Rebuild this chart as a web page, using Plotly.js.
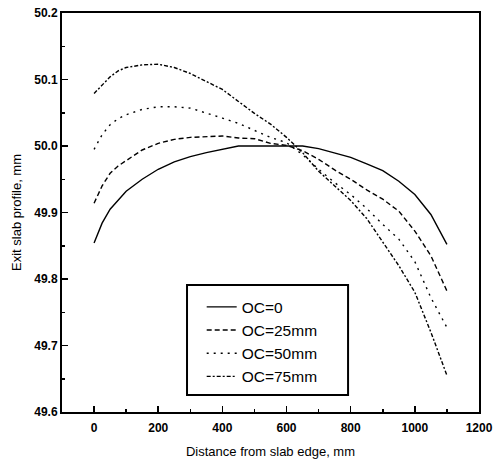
<!DOCTYPE html>
<html>
<head>
<meta charset="utf-8">
<script src="https://cdn.plot.ly/plotly-3.0.1.min.js"></script>
<style>html,body{margin:0;padding:0;background:#fff}#chart{width:496px;height:462px}</style>
</head>
<body>
<div id="chart"></div>
<script>
const distance = [0,25,50,75,100,150,200,250,300,350,400,450,500,550,600,650,700,750,800,850,900,950,1000,1050,1100];
const oc0  = [49.854,49.884,49.905,49.919,49.932,49.950,49.965,49.976,49.984,49.990,49.995,50.000,50.000,50.000,50.000,50.000,49.996,49.990,49.983,49.973,49.963,49.947,49.927,49.897,49.852];
const oc25 = [49.914,49.940,49.959,49.970,49.978,49.994,50.004,50.010,50.013,50.014,50.015,50.012,50.011,50.004,50.001,49.993,49.980,49.964,49.950,49.934,49.920,49.902,49.872,49.835,49.782];
const oc50 = [49.995,50.017,50.032,50.041,50.047,50.055,50.059,50.059,50.057,50.050,50.042,50.034,50.024,50.013,50.005,49.987,49.965,49.945,49.927,49.906,49.882,49.860,49.826,49.772,49.727];
const oc75 = [50.079,50.092,50.104,50.113,50.118,50.122,50.123,50.118,50.109,50.097,50.085,50.067,50.049,50.033,50.013,49.990,49.962,49.940,49.918,49.891,49.855,49.820,49.780,49.720,49.655];
const seriesNames = ["OC=0","OC=25mm","OC=50mm","OC=75mm"];
const xTicks = [0,200,400,600,800,1000,1200];
const yTicks = [49.6,49.7,49.8,49.9,50.0,50.1,50.2];

const dashes = ["solid","5px,3px","2px,5px","4px,2px,2px,2px"];
const series = [oc0, oc25, oc50, oc75];
const traces = series.map((ys,i)=>({
  x: distance, y: ys, type:"scatter", mode:"lines", name: seriesNames[i],
  line:{color:"#000", width:1.4, dash:dashes[i]}
}));

const font = "Liberation Sans, Arial, sans-serif";
const layout = {
  width:496, height:462,
  margin:{l:62, r:17, t:13, b:50},
  paper_bgcolor:"#fff", plot_bgcolor:"#fff",
  font:{family:font, color:"#000"},
  showlegend:true,
  legend:{x:0.335, xanchor:"left", y:0.305, yanchor:"top", bgcolor:"rgba(0,0,0,0)",
          borderwidth:0, font:{size:15.5, family:font}},
  shapes:[{type:"rect", xref:"paper", yref:"paper", x0:0.2998, x1:0.686, y0:0.0426, y1:0.318,
           line:{color:"#000", width:2}, fillcolor:"rgba(0,0,0,0)", layer:"above"}],
  xaxis:{range:[-100,1200], tickvals:xTicks, ticktext:xTicks.map(String),
         ticks:"inside", ticklen:6, tickwidth:1.5, tickcolor:"#000",
         minor:{dtick:100, ticks:"inside", ticklen:3, tickcolor:"#000"},
         showline:true, linewidth:2, linecolor:"#000", mirror:true,
         showgrid:false, zeroline:false, ticklabelstandoff:4,
         tickfont:{size:12, family:font, weight:"bold"},
         title:{text:"Distance from slab edge, mm", font:{size:13, family:font}, standoff:12}},
  yaxis:{range:[49.6,50.2], tickvals:yTicks, ticktext:yTicks.map(v=>v.toFixed(1)),
         ticks:"inside", ticklen:6, tickwidth:1.5, tickcolor:"#000",
         minor:{dtick:0.05, ticks:"inside", ticklen:3, tickcolor:"#000"},
         showline:true, linewidth:2, linecolor:"#000", mirror:true,
         showgrid:false, zeroline:false,
         tickfont:{size:12, family:font, weight:"bold"},
         title:{text:"Exit slab profile, mm", font:{size:13, family:font}, standoff:10}}
};
Plotly.newPlot("chart", traces, layout, {displayModeBar:false, staticPlot:true});
</script>
</body>
</html>
